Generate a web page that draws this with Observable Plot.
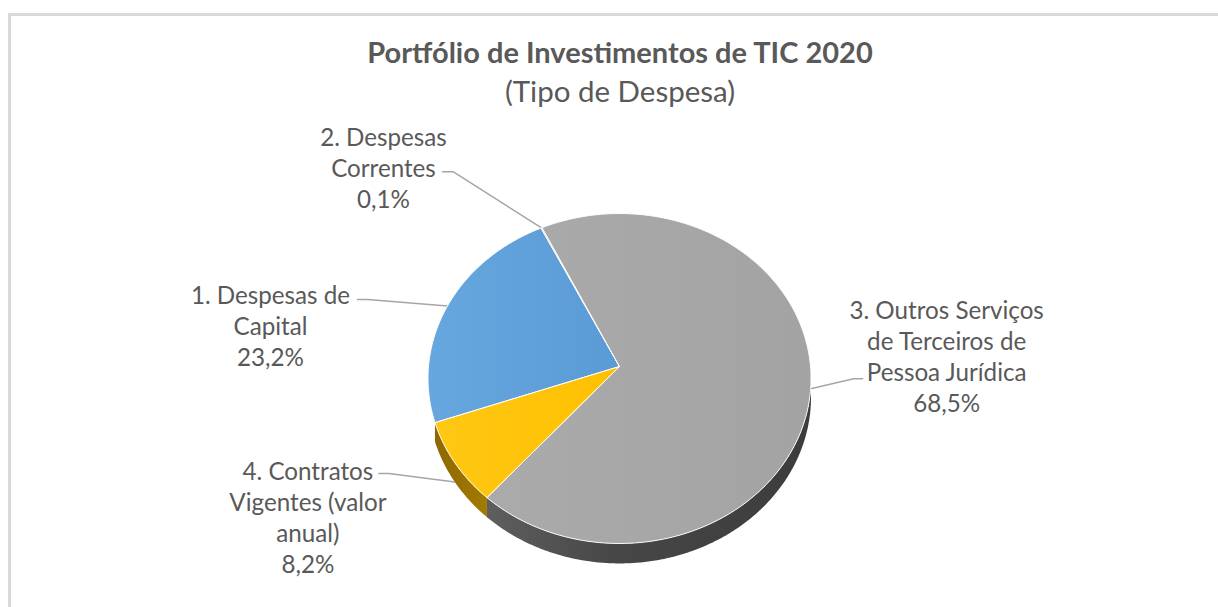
<!DOCTYPE html>
<html>
<head>
<meta charset="utf-8">
<script src="https://cdn.jsdelivr.net/npm/d3@7"></script>
<script src="https://cdn.jsdelivr.net/npm/@observablehq/plot@0.6"></script>
<style>
  html, body { margin: 0; padding: 0; background: #fff; overflow: hidden; }
  #wrap { position: relative; width: 1218px; height: 607px; overflow: hidden; }
  #frame { position: absolute; left: 8px; top: 13px; width: 1400px; height: 800px;
           border: 3px solid #d9d9d9; box-sizing: border-box; pointer-events: none; z-index: 2; }
  .ttl { position: absolute; left: 0; width: 1240px; text-align: center; color: #595959;
         font-family: Lato, "Open Sans", sans-serif; font-size: 29px; line-height: 29px; white-space: nowrap; z-index: 3; }
  #title { top: 37px; font-weight: bold; }
  #subtitle { top: 76px; font-weight: normal; font-size: 29.5px; }
  #chart { position: absolute; left: 0; top: 0; z-index: 1; }
</style>
</head>
<body>
<div id="wrap">
  <div id="chart"></div>
  <div id="title" class="ttl">Portfólio de Investimentos de TIC 2020</div>
  <div id="subtitle" class="ttl">(Tipo de Despesa)</div>
  <div id="frame"></div>
</div>
<script>
// ---------------- data ----------------
const categories = [
  "1. Despesas de\nCapital",
  "2. Despesas\nCorrentes",
  "3. Outros Serviços\nde Terceiros de\nPessoa Jurídica",
  "4. Contratos\nVigentes (valor\nanual)"
];
const values = [23.2, 0.1, 68.5, 8.2];

// ---------------- styles / layout ----------------
const topFills  = ["url(#gTop0)", "#ed7d31", "url(#gTop2)", "url(#gTop3)"];
const sideFills = [null, "#a4531f", "url(#gSide2)", "url(#gSide3)"];
const startAngle = 250.5;          // first slice angle (deg, clockwise from 12 o'clock)
const CX = 619, CY = 366, SX = 191, SY = 164.1;   // pie centre & radii in px
const K = 0.0728;                  // perspective strength
const DEPTH = 18.5 / SY;           // slab thickness (y units)
// label layout: pixel offsets relative to each slice's leader anchor
const labelOffset = [[-177, 19], [-158, -61], [136, -33], [-147, 34]];
const elbowOffset = [[-80, -6.5], [-88, -56], [43, -10], [-66, -8.5]];
const endOffset   = [[-90, -6.5], [-99, -56], [52, -10], [-76, -8.5]];
const anchorDepth = [0, 0, 0, 1];

// ---------------- geometry ----------------
function proj(deg, h = 0) {
  const t = deg * Math.PI / 180;
  const X = Math.sin(t), Z = -Math.cos(t);
  const s = 1 / (1 - K * Z);
  return {x: X * s, y: (Z + h) * s};
}
const total = d3.sum(values);
let acc = startAngle;
const slices = values.map((v, i) => {
  const a = acc, b = acc + v / total * 360;
  acc = b;
  return {i, a, b, mid: (a + b) / 2};
});

const tops = [], sides = [];
for (const s of slices) {
  const pts = [{x: 0, y: 0}];
  const n = Math.max(2, Math.ceil((s.b - s.a) / 0.5));
  for (let k = 0; k <= n; k++) pts.push(proj(s.a + (s.b - s.a) * k / n));
  pts.push({x: 0, y: 0});
  pts.forEach(p => p.id = s.i);
  tops.push(pts);
  // visible front side (Z > 0 between 90 and 270 degrees)
  const side = [];
  for (const off of [0, 360]) {
    const lo = Math.max(s.a, 90 + off), hi = Math.min(s.b, 270 + off);
    if (hi > lo) {
      const m = Math.max(2, Math.ceil((hi - lo) / 0.5));
      const up = [], dn = [];
      for (let k = 0; k <= m; k++) {
        const d = lo + (hi - lo) * k / m;
        up.push(proj(d));
        dn.push(proj(d, DEPTH));
      }
      const poly = up.concat(dn.reverse());
      poly.push(up[0]);
      poly.forEach(p => p.id = s.i + "_" + off);
      side.push(poly);
    }
  }
  sides.push(side);
}

// leader lines and labels
const fmt = v => v.toFixed(1).replace(".", ",") + "%";
const leaders = slices.map(s => {
  const an = proj(s.mid, anchorDepth[s.i] * DEPTH);
  const el = {x: an.x + elbowOffset[s.i][0] / SX, y: an.y + elbowOffset[s.i][1] / SY};
  const en = {x: an.x + endOffset[s.i][0] / SX, y: an.y + endOffset[s.i][1] / SY};
  return {an, pts: [en, el, an]};
});

const marks = [];
leaders.forEach(l => marks.push(Plot.line(l.pts, {x: "x", y: "y", stroke: "#a6a6a6", strokeWidth: 1.5})));
sides.forEach((side, i) => {
  if (!sideFills[i]) return;
  side.forEach(poly =>
    marks.push(Plot.line(poly, {x: "x", y: "y", fill: sideFills[i], stroke: "none"})));
});
tops.forEach((pts, i) =>
  marks.push(Plot.line(pts, {x: "x", y: "y", fill: topFills[i], stroke: "#ffffff", strokeWidth: 1, strokeLinejoin: "round"})));
slices.forEach(s => {
  const an = leaders[s.i].an;
  marks.push(Plot.text([{x: an.x, y: an.y, t: categories[s.i] + "\n" + fmt(values[s.i])}], {
    x: "x", y: "y", text: "t",
    dx: labelOffset[s.i][0], dy: labelOffset[s.i][1],
    fontSize: 24.2, lineHeight: 31 / 24.2, fill: "#595959",
    fontFamily: "Lato, 'Open Sans', sans-serif",
    textAnchor: "middle", lineAnchor: "middle"
  }));
});

const svg = Plot.plot({
  width: 1218, height: 607,
  margin: 0,
  style: {background: "transparent"},
  x: {domain: [-1, 1], range: [CX - SX, CX + SX], axis: null},
  y: {domain: [-1, 1], range: [CY - SY, CY + SY], axis: null},
  marks
});

// gradients
const ns = "http://www.w3.org/2000/svg";
const defs = document.createElementNS(ns, "defs");
function grad(id, stops, x1, x2) {
  const g = document.createElementNS(ns, "linearGradient");
  g.setAttribute("id", id);
  g.setAttribute("gradientUnits", "userSpaceOnUse");
  g.setAttribute("x1", x1); g.setAttribute("x2", x2);
  g.setAttribute("y1", 0); g.setAttribute("y2", 0);
  stops.forEach(([o, c]) => {
    const st = document.createElementNS(ns, "stop");
    st.setAttribute("offset", o); st.setAttribute("stop-color", c);
    g.appendChild(st);
  });
  defs.appendChild(g);
}
grad("gTop0", [[0, "#66a7e0"], [1, "#5b9bd5"]], CX - SX, CX);
grad("gTop2", [[0, "#acacac"], [1, "#a3a3a3"]], CX - SX, CX + SX);
grad("gTop3", [[0, "#ffc814"], [1, "#ffc000"]], CX - SX, CX);
grad("gSide2", [[0, "#606060"], [0.4, "#474747"], [1, "#3c3c3c"]], CX - 140, CX + SX);
grad("gSide3", [[0, "#8c6600"], [1, "#a87e00"]], CX - SX, CX - 120);
svg.insertBefore(defs, svg.firstChild);
document.getElementById("chart").appendChild(svg);
</script>
</body>
</html>
